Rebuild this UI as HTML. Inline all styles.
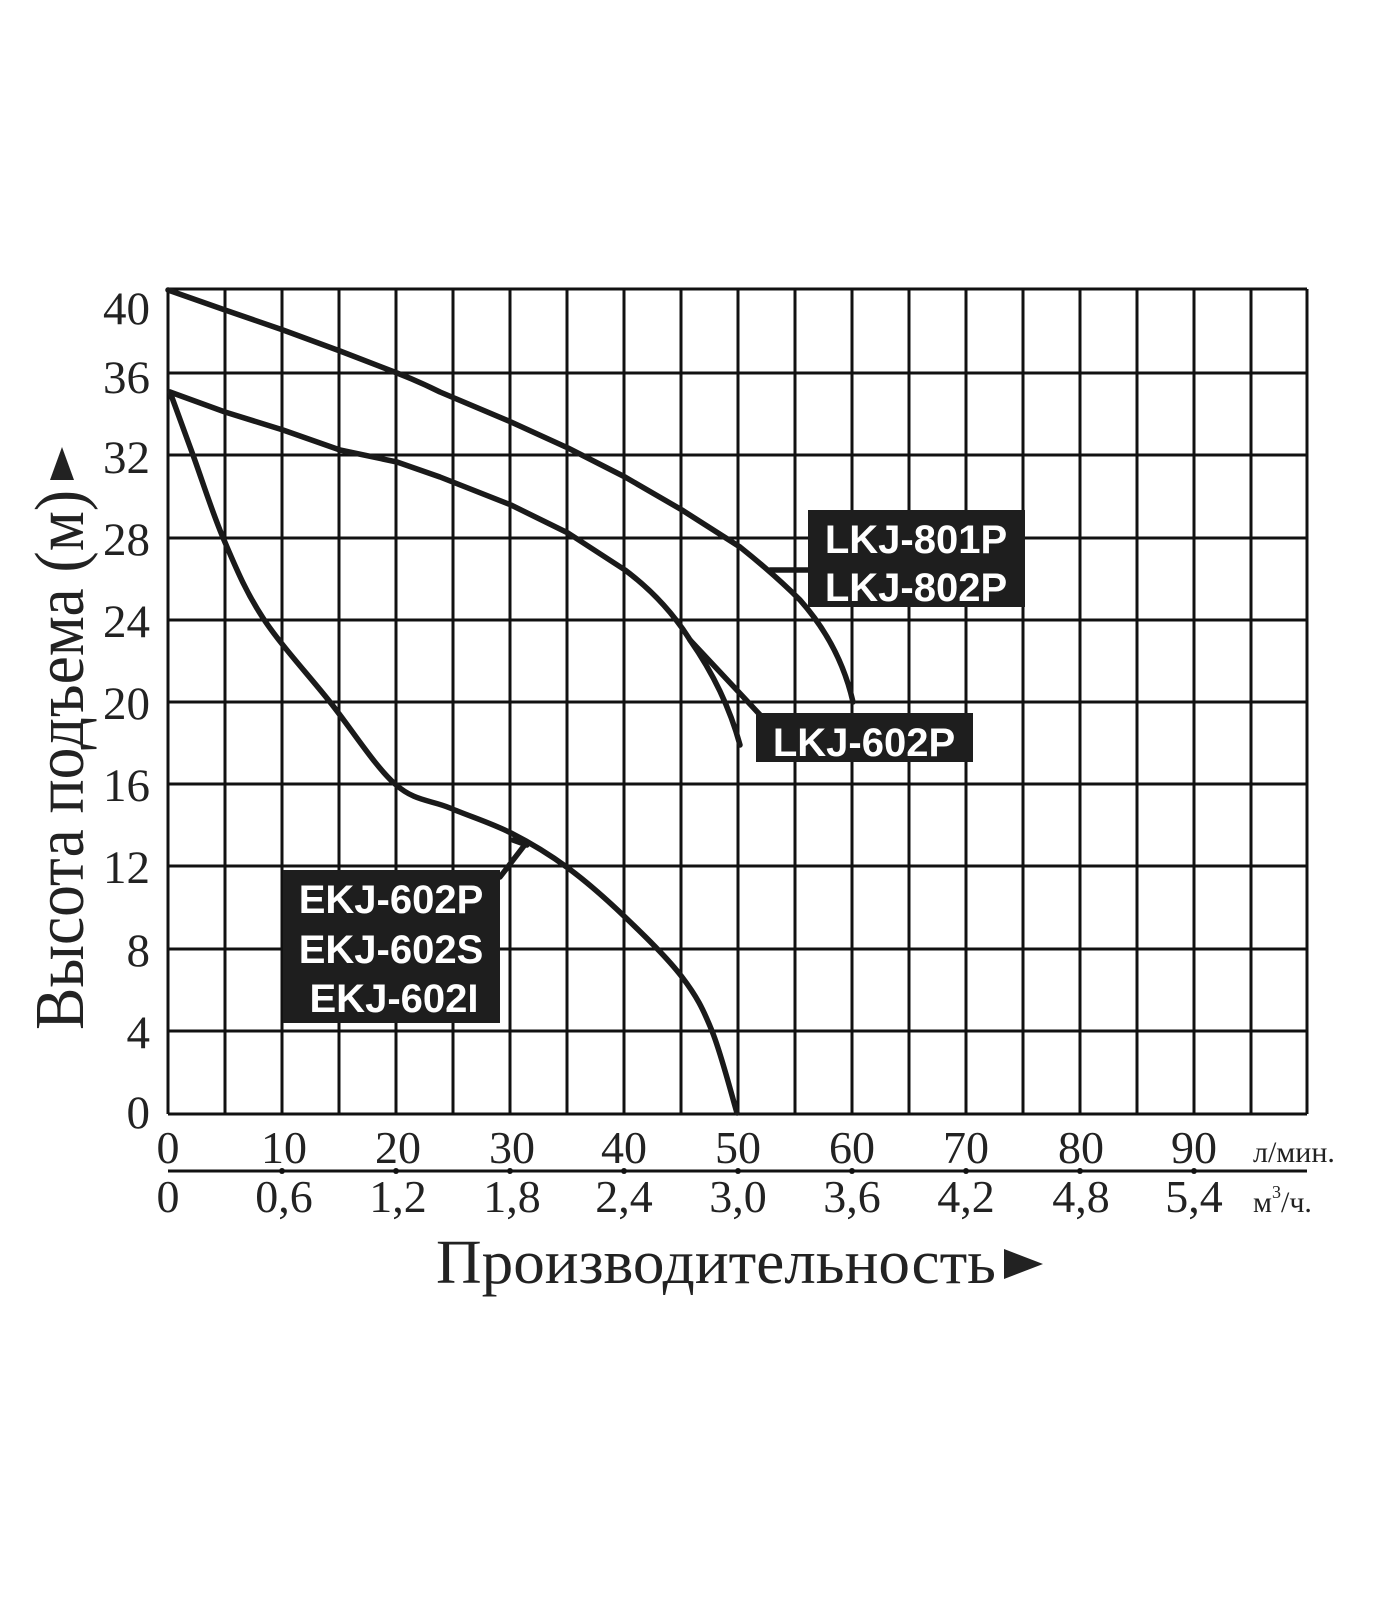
<!DOCTYPE html>
<html><head><meta charset="utf-8"><style>
html,body{margin:0;padding:0;background:#fff;}
svg{display:block;}
</style></head><body>
<svg width="1400" height="1600" viewBox="0 0 1400 1600" xmlns="http://www.w3.org/2000/svg">
<rect width="1400" height="1600" fill="#fff"/>
<g stroke="#111" stroke-width="3" fill="none">
<path d="M168,289V1114 M225,289V1114 M282,289V1114 M339,289V1114 M396,289V1114 M453,289V1114 M510,289V1114 M567,289V1114 M624,289V1114 M681,289V1114 M738,289V1114 M795,289V1114 M852,289V1114 M909,289V1114 M966,289V1114 M1023,289V1114 M1080,289V1114 M1137,289V1114 M1194,289V1114 M1251,289V1114 M1307,289V1114"/>
<path d="M168,289H1307 M168,373H1307 M168,455H1307 M168,538H1307 M168,620H1307 M168,702H1307 M168,784H1307 M168,866H1307 M168,949H1307 M168,1031H1307 M168,1114H1307"/>
<path d="M168,1171H1307"/>
</g>
<g fill="#111">
<circle cx="282" cy="1171" r="3"/><circle cx="396" cy="1171" r="3"/><circle cx="510" cy="1171" r="3"/><circle cx="624" cy="1171" r="3"/><circle cx="738" cy="1171" r="3"/><circle cx="852" cy="1171" r="3"/><circle cx="966" cy="1171" r="3"/><circle cx="1080" cy="1171" r="3"/><circle cx="1194" cy="1171" r="3"/>
</g>
<g stroke="#1a1a1a" stroke-width="5.5" fill="none" stroke-linecap="round" stroke-linejoin="round">
<!-- LKJ-801P -->
<path d="M168,290 L225,310 L283,330 L340,351 L397,373 Q420,382 440,392 L511,422 L568,448 L625,477 L682,510 L740,547 Q775,575 800,600 Q840,645 853,702"/>
<!-- LKJ-602P -->
<path d="M170,392 L225,412 L283,430 L340,450 L397,462 Q420,470 440,477 L511,505 L568,533 L625,570 Q665,600 690,640 Q725,690 740,745"/>
<path d="M690,640 L762,717"/>
<path d="M770,570 L812,570"/>
<!-- EKJ -->
<path d="M170,392 C173.8,402.5 184,430.3 193,455 C202,479.7 212.3,512.8 224,540 C235.7,567.2 245.3,591 263,618 C280.7,645 308,674.3 330,702 C352,729.7 375,766.3 395,784 C415,801.7 430.7,799.8 450,808 C469.3,816.2 491.3,823 511,833 C530.7,843 549,854 568,868 C587,882 606,898.8 625,917 C644,935.2 667.5,958 682,977 C696.5,996 702.8,1008.3 712,1031 C721.2,1053.7 732.8,1099.3 737,1113"/>
<path d="M527,842 L500,877"/>
<path d="M513,840 L527,845"/>
</g>
<rect x="808" y="510" width="217" height="97" fill="#1e1e1e"/>
<rect x="756" y="713" width="217" height="49" fill="#1e1e1e"/>
<rect x="283" y="870" width="217" height="153" fill="#1e1e1e"/>
<g font-family="Liberation Sans, sans-serif" font-weight="bold" font-size="40" fill="#fff" text-anchor="middle">
<text x="916" y="553">LKJ-801P</text>
<text x="916" y="601">LKJ-802P</text>
<text x="864" y="756">LKJ-602P</text>
<text x="391" y="913">EKJ-602P</text>
<text x="391" y="963">EKJ-602S</text>
<text x="394" y="1012">EKJ-602I</text>
</g>
<g font-family="Liberation Serif, serif" font-size="47" fill="#222" text-anchor="end">
<text x="150" y="324">40</text>
<text x="150" y="393">36</text>
<text x="150" y="473">32</text>
<text x="150" y="555">28</text>
<text x="150" y="637">24</text>
<text x="150" y="719">20</text>
<text x="150" y="801">16</text>
<text x="150" y="883">12</text>
<text x="150" y="966">8</text>
<text x="150" y="1048">4</text>
<text x="150" y="1128">0</text>
</g>
<g font-family="Liberation Serif, serif" font-size="46" fill="#222" text-anchor="middle">
<text x="168" y="1163">0</text><text x="284" y="1163">10</text><text x="398" y="1163">20</text><text x="512" y="1163">30</text><text x="624" y="1163">40</text><text x="738" y="1163">50</text><text x="852" y="1163">60</text><text x="966" y="1163">70</text><text x="1081" y="1163">80</text><text x="1194" y="1163">90</text>
<text x="168" y="1212">0</text><text x="284" y="1212">0,6</text><text x="398" y="1212">1,2</text><text x="512" y="1212">1,8</text><text x="624" y="1212">2,4</text><text x="738" y="1212">3,0</text><text x="852" y="1212">3,6</text><text x="966" y="1212">4,2</text><text x="1081" y="1212">4,8</text><text x="1194" y="1212">5,4</text>
</g>
<g font-family="Liberation Serif, serif" font-size="30" fill="#222">
<text x="1253" y="1162">л/мин.</text>
<text x="1253" y="1212">м<tspan font-size="18" dy="-14">3</tspan><tspan dy="14">/ч.</tspan></text>
</g>
<text x="436" y="1283" font-family="Liberation Serif, serif" font-size="62" fill="#222" textLength="560" lengthAdjust="spacingAndGlyphs">Производительность</text>
<polygon points="1004,1249 1043,1264 1004,1279" fill="#222"/>
<text transform="translate(83,1030) rotate(-90)" font-family="Liberation Serif, serif" font-size="70" fill="#222" textLength="540" lengthAdjust="spacingAndGlyphs">Высота подъема (м)</text>
<polygon points="50,480 74,480 62,447" fill="#222"/>
</svg>
</body></html>
